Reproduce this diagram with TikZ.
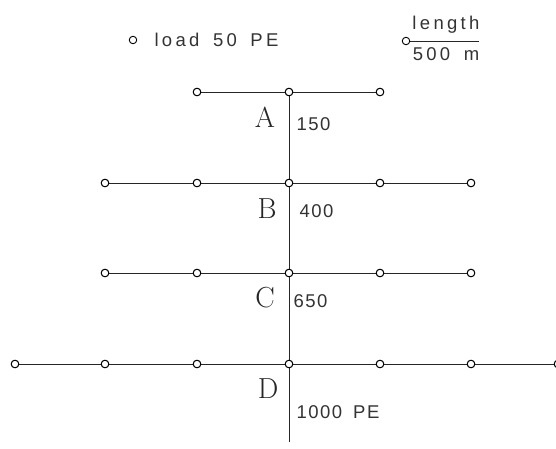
\documentclass[tikz,border=0pt]{standalone}
\usepackage{fontspec}
\setmainfont{Latin Modern Roman}
\newfontfamily\cadfont[LetterSpace=18,WordSpace=1.6]{Liberation Sans}
\newfontfamily\numfont[LetterSpace=8]{Liberation Sans}
\begin{document}
\begin{tikzpicture}[x=1pt,y=-1pt,
  load/.style={circle,draw,fill=white,inner sep=0pt,minimum size=7.5pt,line width=0.9pt},
  wire/.style={line width=0.8pt,draw=black!85},
  letter/.style={font=\fontsize{29}{29}\selectfont,text=black!85},
  num/.style={font=\numfont\fontsize{18.5}{18.5}\selectfont,text=black!80,anchor=west},
  legend/.style={font=\cadfont\fontsize{18.5}{18.5}\selectfont,text=black!80}]
\useasboundingbox (0,0) rectangle (556,448);
% trunk nodes
\node[load] (a0) at (289,92) {};
\node[load] (b0) at (289,183) {};
\node[load] (c0) at (289,273) {};
\node[load] (d0) at (289,364) {};
\coordinate (bot) at (289,442);
% row A
\node[load] (al1) at (197,92) {};
\node[load] (ar1) at (380,92) {};
% row B
\node[load] (bl1) at (197,183) {};
\node[load] (bl2) at (105,183) {};
\node[load] (br1) at (380,183) {};
\node[load] (br2) at (471,183) {};
% row C
\node[load] (cl1) at (197,273) {};
\node[load] (cl2) at (105,273) {};
\node[load] (cr1) at (380,273) {};
\node[load] (cr2) at (471,273) {};
% row D
\node[load] (dl1) at (197,364) {};
\node[load] (dl2) at (105,364) {};
\node[load] (dl3) at (15,364) {};
\node[load] (dr1) at (380,364) {};
\node[load] (dr2) at (471,364) {};
\node[load] (dr3) at (558,364) {};
% wires
\draw[wire] (a0) -- (b0) -- (c0) -- (d0) -- (bot);
\draw[wire] (al1) -- (a0) -- (ar1);
\draw[wire] (bl2) -- (bl1) -- (b0) -- (br1) -- (br2);
\draw[wire] (cl2) -- (cl1) -- (c0) -- (cr1) -- (cr2);
\draw[wire] (dl3) -- (dl2) -- (dl1) -- (d0) -- (dr1) -- (dr2) -- (dr3);
% redraw circles on top
\foreach \n in {a0,b0,c0,d0,al1,ar1,bl1,bl2,br1,br2,cl1,cl2,cr1,cr2,dl1,dl2,dl3,dr1,dr2,dr3}
  \node[load] at (\n) {};
% labels
\node[letter] (la) at (265,117) {A};
\node[letter] (lb) at (267,209) {B};
\node[letter] (lc) at (265,298) {C};
\node[letter] (ld) at (268,389) {D};
\node[num] (na) at (293,124) {150};
\node[num] (nb) at (296,211) {400};
\node[num] (nc) at (290,301) {650};
\node[num] (nd) at (293,412) {1000\hspace{0.6em}PE};
% legend
\node[load] (lg1) at (133,40) {};
\node[legend,anchor=west] (lgt) at (151,40) {load 50 PE};
\node[load] (lg2) at (406,41) {};
\coordinate (lgend) at (479,41);
\draw[wire] (lg2) -- (lgend);
\node[legend] (lgl) at (446,25) {length};
\node[legend] (lgm) at (446,54) {500 m};
\end{tikzpicture}
\end{document}
